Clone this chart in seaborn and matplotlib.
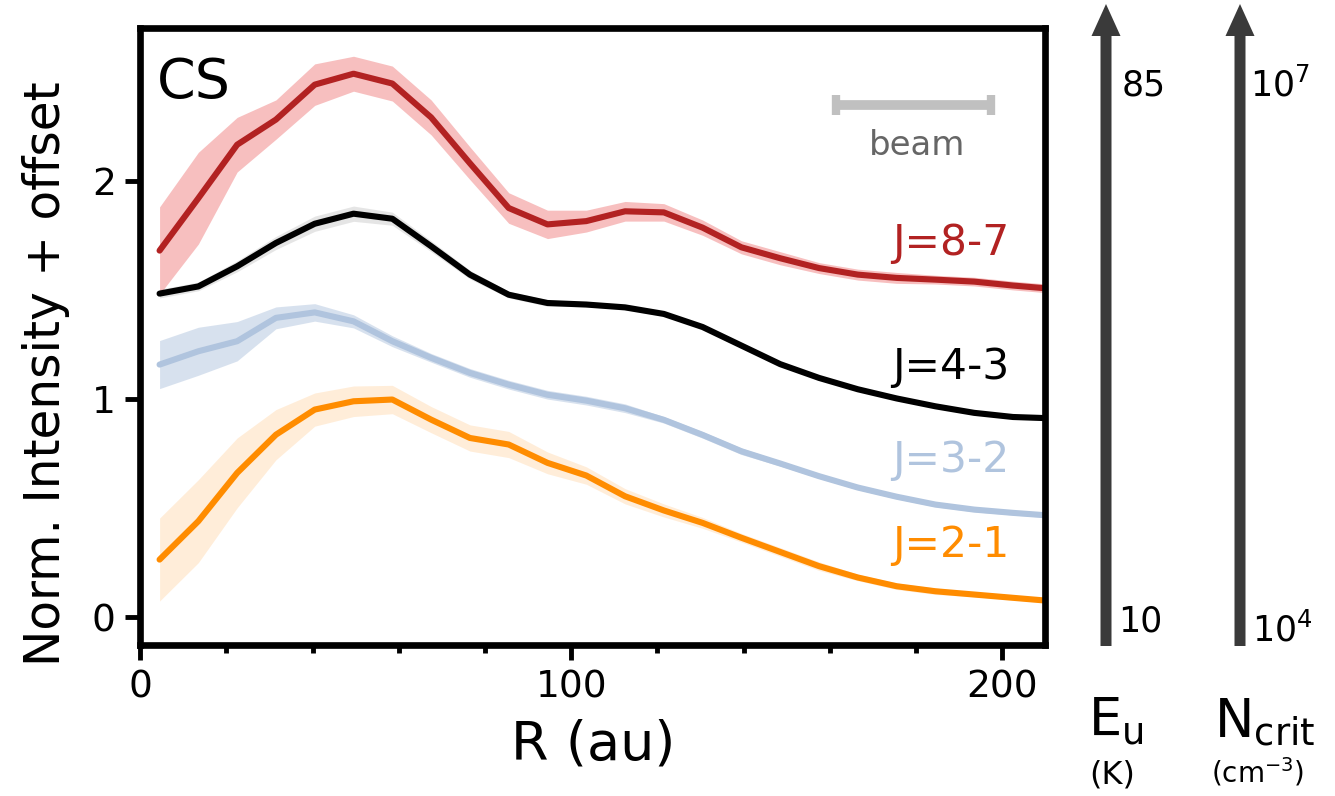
import numpy as np
import pandas as pd
import matplotlib
matplotlib.use("Agg")
import matplotlib.pyplot as plt
from matplotlib.patches import FancyArrow
import seaborn as sns

# ---------------- data ----------------
R_au = [4.5, 13.5, 22.5, 31.5, 40.5, 49.5, 58.5, 67.5, 76.5, 85.5, 94.5, 103.5,
        112.5, 121.5, 130.5, 139.5, 148.5, 157.5, 166.5, 175.5, 184.5, 193.5, 202.5, 211.5]

j87 = [1.68, 1.92, 2.165, 2.28, 2.44, 2.49, 2.445, 2.29, 2.08, 1.875, 1.80, 1.815,
       1.86, 1.855, 1.785, 1.695, 1.645, 1.60, 1.57, 1.555, 1.547, 1.538, 1.52, 1.505]
j87_err = [0.20, 0.21, 0.125, 0.09, 0.095, 0.08, 0.08, 0.08, 0.075, 0.07, 0.065, 0.05,
           0.045, 0.04, 0.035, 0.03, 0.03, 0.025, 0.025, 0.025, 0.02, 0.02, 0.02, 0.02]

j43 = [1.483, 1.516, 1.608, 1.715, 1.803, 1.849, 1.826, 1.70, 1.57, 1.478, 1.44, 1.433,
       1.42, 1.39, 1.33, 1.245, 1.16, 1.097, 1.045, 1.003, 0.967, 0.937, 0.918, 0.912]
j43_err = [0.02, 0.02, 0.025, 0.03, 0.035, 0.035, 0.03, 0.025, 0.02, 0.015, 0.015, 0.01,
           0.01, 0.01, 0.01, 0.01, 0.008, 0.008, 0.008, 0.008, 0.008, 0.008, 0.008, 0.008]

j32 = [1.158, 1.219, 1.265, 1.372, 1.397, 1.356, 1.265, 1.189, 1.12, 1.066, 1.02, 0.993,
       0.958, 0.905, 0.836, 0.761, 0.705, 0.647, 0.595, 0.553, 0.517, 0.494, 0.479, 0.466]
j32_err = [0.11, 0.11, 0.09, 0.05, 0.04, 0.03, 0.025, 0.02, 0.02, 0.02, 0.02, 0.02,
           0.02, 0.015, 0.015, 0.015, 0.012, 0.01, 0.01, 0.01, 0.01, 0.01, 0.01, 0.01]

j21 = [0.265, 0.441, 0.662, 0.837, 0.952, 0.99, 0.998, 0.906, 0.822, 0.792, 0.708, 0.65,
       0.555, 0.49, 0.433, 0.365, 0.30, 0.235, 0.183, 0.143, 0.12, 0.105, 0.09, 0.075]
j21_err = [0.19, 0.19, 0.16, 0.115, 0.076, 0.07, 0.065, 0.06, 0.06, 0.06, 0.05, 0.04,
           0.035, 0.03, 0.025, 0.02, 0.02, 0.02, 0.015, 0.015, 0.015, 0.01, 0.01, 0.01]

labels = ["J=2-1", "J=3-2", "J=4-3", "J=8-7"]
label_baseline = [0.275, 0.664, 1.094, 1.661]
line_colors = ["#ff8c00", "#b0c4de", "black", "#b22222"]
band_colors = ["#ff8c00", "#b0c4de", "gray", "lightcoral"]
band_alpha = [0.15, 0.5, 0.2, 0.5]

beam_center, beam_half, beam_y = 179.4, 17.9, 2.348

xticks_major = [0, 100, 200]
xticks_minor = [20, 40, 60, 80, 120, 140, 160, 180]
yticks_major = [0, 1, 2]

# ---------------- plot ----------------
sns.set_theme(style="white")
plt.rcParams["font.family"] = ["DejaVu Sans"]
plt.rcParams["text.color"] = "black"
plt.rcParams["axes.labelcolor"] = "black"
plt.rcParams["xtick.color"] = "black"
plt.rcParams["ytick.color"] = "black"

fig = plt.figure(figsize=(13.35, 7.96), dpi=100)
ax = fig.add_axes([0.105, 0.19, 0.678, 0.775])

series = [(j21, j21_err), (j32, j32_err), (j43, j43_err), (j87, j87_err)]
for (vals, err), lc, bc, ba in zip(series, line_colors, band_colors, band_alpha):
    df = pd.DataFrame({"R": R_au, "I": vals, "e": err})
    ax.fill_between(df["R"], df["I"] - df["e"], df["I"] + df["e"],
                    color=bc, alpha=ba, lw=0)
    sns.lineplot(data=df, x="R", y="I", color=lc, lw=4.4, ax=ax, legend=False)

for lab, ly, lc in zip(labels, label_baseline, line_colors):
    ax.text(201.7, ly, lab, color=lc, fontsize=30.5, ha="right", va="baseline")

# beam
ax.errorbar([beam_center], [beam_y], xerr=[beam_half], fmt="none",
            ecolor="#c0c0c0", elinewidth=7, capsize=7.5, capthick=6)
ax.text(180.3, 2.119, "beam", color="#666666", fontsize=24.5,
        ha="center", va="baseline")

ax.text(0.018, 0.911, "CS", transform=ax.transAxes, fontsize=40,
        ha="left", va="center")

ax.set_xlim(0, 210)
ax.set_ylim(-0.125, 2.7)
ax.set_xticks(xticks_major)
ax.set_xticks(xticks_minor, minor=True)
ax.set_yticks(yticks_major)
ax.tick_params(axis="both", which="major", direction="out", length=10.5, width=3.5,
               labelsize=27, pad=7)
ax.tick_params(axis="x", which="minor", direction="out", length=6, width=3.5,
               bottom=True)
ax.tick_params(bottom=True, left=True)
for s in ax.spines.values():
    s.set_linewidth(4.8)
    s.set_color("black")

ax.set_xlabel("R (au)", fontsize=39, labelpad=10)
ax.set_ylabel("Norm. Intensity + offset", fontsize=35)
ax.yaxis.set_label_coords(-0.077, 0.44)

# right-side arrows
arrow_color = "#3a3a3a"
for xa in [1106, 1240]:
    fig.patches.append(FancyArrow(
        xa / 1335, 1 - 646 / 796, 0, (646 - 4) / 796,
        width=11 / 1335, head_width=29 / 1335, head_length=32 / 796,
        length_includes_head=True, transform=fig.transFigure,
        color=arrow_color, lw=0))

fig.text(1122 / 1335, 1 - 85 / 796, "85", fontsize=25, ha="left", va="center")
fig.text(1118 / 1335, 1 - 622 / 796, "10", fontsize=25, ha="left", va="center")
fig.text(1250 / 1335, 1 - 85 / 796, r"10$^{7}$", fontsize=25, ha="left", va="center")
fig.text(1252 / 1335, 1 - 630 / 796, r"10$^{4}$", fontsize=25, ha="left", va="center")

fig.text(1088 / 1335, 1 - 722 / 796, r"E$_{\mathregular{u}}$", fontsize=38,
         ha="left", va="center")
fig.text(1112 / 1335, 1 - 775 / 796, "(K)", fontsize=23, ha="center", va="center")
fig.text(1214 / 1335, 1 - 722 / 796, r"N$_{\mathregular{crit}}$", fontsize=38,
         ha="left", va="center")
fig.text(1258 / 1335, 1 - 772 / 796, r"(cm$^{\mathregular{-3}}$)", fontsize=20,
         ha="center", va="center")

fig.savefig("out.png", dpi=100)
